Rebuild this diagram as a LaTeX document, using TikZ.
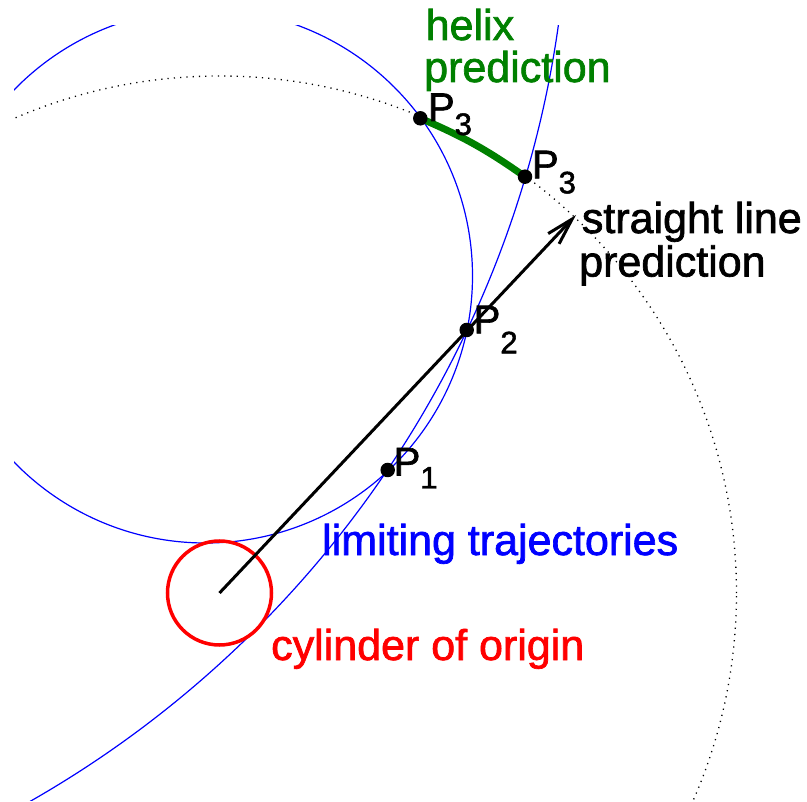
\documentclass[tikz,border=0pt]{standalone}
\usepackage{fontspec}
\setmainfont{Liberation Sans}[FakeBold=1.6]
\usetikzlibrary{arrows.meta}
\definecolor{hgreen}{RGB}{0,128,0}
\newcommand{\psub}[2]{P\raisebox{-#2pt}{\fontsize{31}{31}\selectfont #1}}
\begin{document}
\begin{tikzpicture}[x=1pt,y=-1pt,
  traj/.style={blue, line width=1.2pt},
  ptdot/.style={circle, fill=black, inner sep=0pt, minimum size=14.5pt},
  lab/.style={anchor=base west, inner sep=0pt, font=\fontsize{43}{43}\selectfont},
  plabel/.style={anchor=base west, inner sep=0pt, font=\fontsize{40}{40}\selectfont},
  cylstyle/.style={circle, draw=red, line width=3.5pt, minimum size=104pt, inner sep=0pt},
]
\useasboundingbox (0,0) rectangle (807,802);
% points
\coordinate (p1) at (387.7,470);
\coordinate (p2) at (466.7,330);
\coordinate (p3a) at (420.3,118.3);
\coordinate (p3b) at (525,176.7);
\coordinate (tip) at (576,215);
% trajectories and prediction circle
\begin{scope}
  \clip (14,26) rectangle (807,800);
  \draw[traj] (205.5,276) circle[radius=267pt];
  \draw[traj] (-496.7,-125.1) circle[radius=1065.6pt];
  \draw[black, line width=1.3pt, dash pattern=on 1.2pt off 5.1pt] (219.5,593) circle[radius=517pt];
\end{scope}
% cylinder of origin
\node[cylstyle] (cyl) at (219.5,593) {};
% helix prediction
\draw[hgreen, line width=7pt] (p3a) to[bend left=6] (p3b);
% straight line prediction
\draw[black, line width=3pt, -{Straight Barb[length=27pt, width=15pt]}] (cyl.center) -- (tip);
% dots
\node[ptdot] (d1) at (p1) {};
\node[ptdot] (d2) at (p2) {};
\node[ptdot] (d3a) at (p3a) {};
\node[ptdot] (d3b) at (p3b) {};
% point labels
\node[plabel] (l1) at (393.5,475.5) {\psub{1}{13}};
\node[plabel] (l2) at (473.5,333.3) {\psub{2}{20}};
\node[plabel] (l3a) at (427.8,121) {\psub{3}{14}};
\node[plabel] (l3b) at (531.8,178.3) {\psub{3}{15}};
% texts
\node[lab, text=hgreen] (th1) at (425.5,40) {helix};
\node[lab, text=hgreen] (th2) at (424,82) {prediction};
\node[lab] (ts1) at (581.7,233) {straight line};
\node[lab] (ts2) at (579,276.5) {prediction};
\node[lab, text=blue] (tl) at (322,555) {limiting trajectories};
\node[lab, text=red] (tc) at (271,660) {cylinder of origin};
\end{tikzpicture}
\end{document}
